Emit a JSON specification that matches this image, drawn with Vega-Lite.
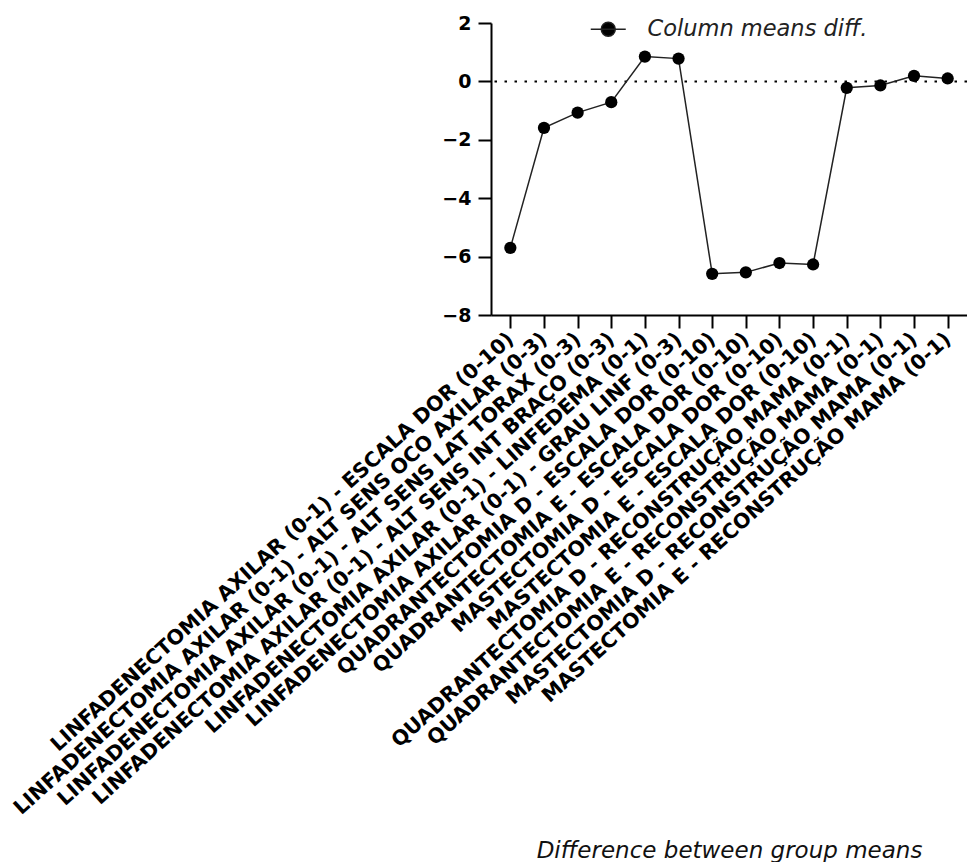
{
  "$schema": "https://vega.github.io/schema/vega-lite/v6.json",
  "width": 476,
  "height": 292,
  "autosize": {"type": "none"},
  "padding": {"left": 491, "top": 23, "right": 0, "bottom": 547},
  "background": "white",
  "config": {
    "view": {"stroke": null},
    "font": "DejaVu Sans",
    "axis": {
      "domainColor": "black", "domainWidth": 2, "tickColor": "black", "tickWidth": 2, "tickSize": 13,
      "grid": false, "labelColor": "black", "labelFont": "DejaVu Sans", "labelFontWeight": "bold"
    },
    "axisX": {
      "labelAngle": -42, "labelAlign": "right", "labelBaseline": "middle", "labelFontSize": 20.4,
      "labelPadding": 8, "labelLimit": 0, "labelOverlap": false, "labelFlush": false,
      "titleFont": "DejaVu Sans", "titleFontStyle": "italic", "titleFontWeight": "normal", "titleFontSize": 23,
      "titleColor": "#111", "titleY": 542, "titleBaseline": "alphabetic"
    },
    "axisY": {"labelFontSize": 19, "labelPadding": 7}
  },
  "datasets": {
    "diffs": [
      {"comparison": "LINFADENECTOMIA AXILAR (0-1) - ESCALA DOR (0-10)", "diff": -5.70, "series": "Column means diff."},
      {"comparison": "LINFADENECTOMIA AXILAR (0-1) - ALT SENS OCO AXILAR (0-3)", "diff": -1.59, "series": "Column means diff."},
      {"comparison": "LINFADENECTOMIA AXILAR (0-1) - ALT SENS LAT TORAX (0-3)", "diff": -1.07, "series": "Column means diff."},
      {"comparison": "LINFADENECTOMIA AXILAR (0-1) - ALT SENS INT BRAÇO (0-3)", "diff": -0.71, "series": "Column means diff."},
      {"comparison": "LINFADENECTOMIA AXILAR (0-1) - LINFEDEMA (0-1)", "diff": 0.85, "series": "Column means diff."},
      {"comparison": "LINFADENECTOMIA AXILAR (0-1) - GRAU LINF (0-3)", "diff": 0.78, "series": "Column means diff."},
      {"comparison": "QUADRANTECTOMIA D - ESCALA DOR (0-10)", "diff": -6.59, "series": "Column means diff."},
      {"comparison": "QUADRANTECTOMIA E - ESCALA DOR (0-10)", "diff": -6.54, "series": "Column means diff."},
      {"comparison": "MASTECTOMIA D - ESCALA DOR (0-10)", "diff": -6.22, "series": "Column means diff."},
      {"comparison": "MASTECTOMIA E - ESCALA DOR (0-10)", "diff": -6.27, "series": "Column means diff."},
      {"comparison": "QUADRANTECTOMIA D - RECONSTRUÇÃO MAMA (0-1)", "diff": -0.22, "series": "Column means diff."},
      {"comparison": "QUADRANTECTOMIA E - RECONSTRUÇÃO MAMA (0-1)", "diff": -0.14, "series": "Column means diff."},
      {"comparison": "MASTECTOMIA D - RECONSTRUÇÃO MAMA (0-1)", "diff": 0.19, "series": "Column means diff."},
      {"comparison": "MASTECTOMIA E - RECONSTRUÇÃO MAMA (0-1)", "diff": 0.10, "series": "Column means diff."}
    ],
    "zero": [{"ref": 0}]
  },
  "layer": [
    {
      "data": {"name": "zero"},
      "mark": {"type": "rule", "strokeDash": [2.5, 7.5], "strokeWidth": 2, "color": "black"},
      "encoding": {
        "y": {"field": "ref", "type": "quantitative", "scale": {"domain": [-8, 2], "nice": false, "zero": false}, "axis": {"values": [-8, -6, -4, -2, 0, 2], "title": null}}
      }
    },
    {
      "data": {"name": "diffs"},
      "mark": {"type": "line", "color": "#222", "strokeWidth": 1.5},
      "encoding": {
        "x": {"field": "comparison", "type": "nominal", "sort": null, "scale": {"type": "point", "padding": 0.575}, "axis": {"title": "Difference between group means"}},
        "y": {"field": "diff", "type": "quantitative", "axis": {"values": [-8, -6, -4, -2, 0, 2], "title": null}}
      }
    },
    {
      "data": {"name": "diffs"},
      "mark": {"type": "point", "filled": true, "size": 150, "opacity": 1},
      "encoding": {
        "x": {"field": "comparison", "type": "nominal", "sort": null, "axis": {"title": "Difference between group means"}},
        "y": {"field": "diff", "type": "quantitative", "axis": {"values": [-8, -6, -4, -2, 0, 2], "title": null}},
        "color": {
          "field": "series", "type": "nominal", "scale": {"range": ["black"]},
          "legend": {
            "title": null, "orient": "none", "legendX": 106, "legendY": -5, "padding": 0,
            "symbolType": "M-1.75,0H1.75M-0.7,0A0.7,0.7,0,1,1,0.7,0A0.7,0.7,0,1,1,-0.7,0Z",
            "symbolSize": 400, "symbolFillColor": "black", "symbolStrokeColor": "#222", "symbolStrokeWidth": 1.5,
            "labelFont": "DejaVu Sans", "labelFontStyle": "italic", "labelFontSize": 22.5, "labelColor": "#222", "labelOffset": 28, "labelLimit": 0
          }
        }
      }
    }
  ]
}
